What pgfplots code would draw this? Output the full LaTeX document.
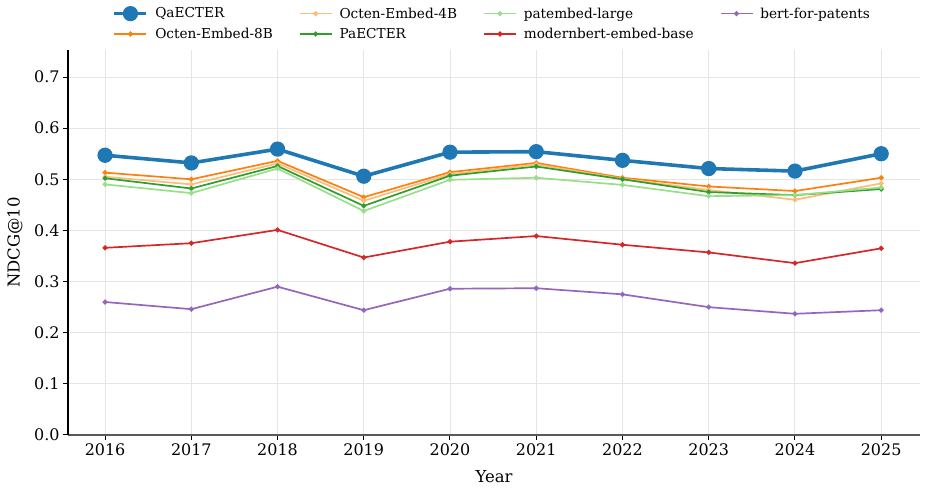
\documentclass[border=0pt]{standalone}
\usepackage{fontspec}
\setmainfont{DejaVu Serif}
\usepackage{pgfplots}
\usepackage{pgfplotstable}
\pgfplotsset{compat=1.18}
\usetikzlibrary{calc}

\definecolor{cQa}{HTML}{1F77B4}
\definecolor{cOct8}{HTML}{FF7F0E}
\definecolor{cOct4}{HTML}{FFBB78}
\definecolor{cPa}{HTML}{2CA02C}
\definecolor{cPat}{HTML}{98DF8A}
\definecolor{cMod}{HTML}{D62728}
\definecolor{cBert}{HTML}{9467BD}

% NDCG@10 per publication year
\pgfplotstableread{
year  qa     oct8   oct4   pa     pat    mod    bert
2016  0.547  0.513  0.505  0.502  0.490  0.366  0.260
2017  0.532  0.500  0.490  0.482  0.473  0.375  0.246
2018  0.559  0.536  0.531  0.526  0.521  0.401  0.290
2019  0.506  0.465  0.458  0.448  0.438  0.347  0.244
2020  0.553  0.514  0.510  0.507  0.499  0.378  0.286
2021  0.554  0.532  0.529  0.525  0.503  0.389  0.287
2022  0.537  0.503  0.501  0.500  0.489  0.372  0.275
2023  0.521  0.486  0.479  0.475  0.467  0.357  0.250
2024  0.516  0.477  0.460  0.469  0.469  0.336  0.237
2025  0.550  0.503  0.492  0.481  0.484  0.365  0.244
}\scores

\pgfplotsset{
  mainline/.style={line width=3.6bp, mark=*, mark size=5.8bp, mark options={solid}},
  otherline/.style={line width=1.7bp, mark=*, mark size=1.6bp, mark options={solid}},
}

\begin{document}
\begin{tikzpicture}
\begin{axis}[
  scale only axis, width=852bp, height=385bp,
  xmin=2015.57, xmax=2025.45, ymin=0, ymax=0.7528,
  xtick={2016,2017,...,2025}, ytick={0,0.1,...,0.71},
  /pgf/number format/assume math mode=true,
  xticklabel style={/pgf/number format/1000 sep={}},
  yticklabel style={/pgf/number format/fixed, /pgf/number format/fixed zerofill, /pgf/number format/precision=1},
  axis x line*=bottom, axis y line*=left,
  x axis line style={draw=black!65, line width=1.6bp, -},
  y axis line style={draw=black, line width=1.1bp, -},
  tick align=outside, major tick length=5bp,
  every tick/.style={black, line width=1bp},
  grid=major, grid style={black!10, line width=0.8bp},
  ticklabel style={font=\fontsize{16}{19}\selectfont},
  label style={font=\fontsize{16.5}{19}\selectfont},
  xlabel={Year}, ylabel={NDCG@10},
  xlabel style={at={(axis description cs:0.5,-0.107)}, anchor=center},
  ylabel style={at={(axis description cs:-0.0622,0.5)}, anchor=center},
  legend columns=4,
  legend style={draw=none, fill=none, font=\fontsize{13.7}{16}\selectfont,
    at={(0.498,1.068)}, anchor=center, row sep=4.5bp,
    nodes={inner sep=2bp},
    /tikz/every odd column/.append style={column sep=5bp},
    /tikz/every even column/.append style={column sep=24bp}},
  legend cell align=left,
  legend image code/.code={\draw[mark repeat=2,mark phase=2] plot coordinates {(0bp,0bp) (16bp,0bp) (32bp,0bp)};},
]
% legend entries, filled row by row
\addlegendimage{cQa, mainline}\addlegendentry{QaECTER}
\addlegendimage{cOct4, otherline}\addlegendentry{Octen-Embed-4B}
\addlegendimage{cPat, otherline}\addlegendentry{patembed-large}
\addlegendimage{cBert, otherline}\addlegendentry{bert-for-patents}
\addlegendimage{cOct8, otherline}\addlegendentry{Octen-Embed-8B}
\addlegendimage{cPa, otherline}\addlegendentry{PaECTER}
\addlegendimage{cMod, otherline}\addlegendentry{modernbert-embed-base}

\addplot[cQa, mainline, forget plot] table[x=year, y=qa] {\scores};
\addplot[cOct8, otherline, forget plot] table[x=year, y=oct8] {\scores};
\addplot[cOct4, otherline, forget plot] table[x=year, y=oct4] {\scores};
\addplot[cPa, otherline, forget plot] table[x=year, y=pa] {\scores};
\addplot[cPat, otherline, forget plot] table[x=year, y=pat] {\scores};
\addplot[cMod, otherline, forget plot] table[x=year, y=mod] {\scores};
\addplot[cBert, otherline, forget plot] table[x=year, y=bert] {\scores};
\end{axis}
\pgfresetboundingbox
\path[use as bounding box] ($(current axis.south west)+(-68bp,-53bp)$) rectangle ($(current axis.north east)+(9bp,50bp)$);
\end{tikzpicture}
\end{document}
